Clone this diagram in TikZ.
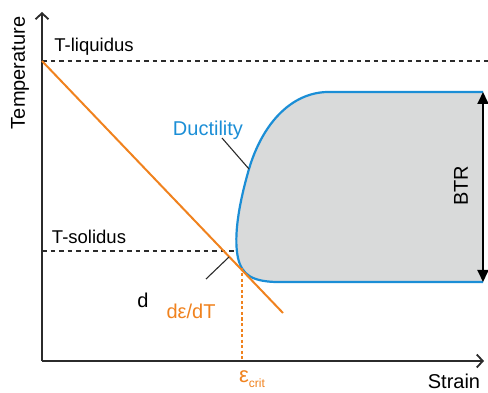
\documentclass[tikz,border=0pt]{standalone}
\usepackage{fontspec}
\setmainfont{Liberation Sans}
\usetikzlibrary{arrows.meta, positioning, calc}
\definecolor{corange}{HTML}{F0821E}
\definecolor{cblue}{HTML}{1B8ED6}
\definecolor{cgrey}{HTML}{D9DADA}
\definecolor{cdark}{HTML}{2B2B2B}
\tikzset{
  every picture/.style={line width=1.8pt},
  lbl/.style={font=\fontsize{20}{24}\selectfont, inner sep=0pt},
  lblsmall/.style={font=\fontsize{18.5}{22}\selectfont, inner sep=0pt},
  axis/.style={draw=cdark, line width=2pt, -{Straight Barb[length=6pt, width=13pt, line width=1.8pt]}},
  limit/.style={draw=cdark, dash pattern=on 4.5pt off 4pt, line width=1.8pt},
  leader/.style={draw=cdark, line width=1.1pt},
  btr/.style={draw=black, line width=1.8pt, {Triangle[length=12pt, width=11pt]}-{Triangle[length=12pt, width=11pt]}},
}

\begin{document}
\begin{tikzpicture}[x=1pt, y=-1pt]
  \useasboundingbox (0,0) rectangle (488,393);
  % ductility region
  \filldraw[fill=cgrey, draw=none] (483,92) -- (327,92)
    .. controls (290,93) and (262,125) .. (249,169)
    .. controls (240,200) and (233,235) .. (238,258)
    .. controls (242,275) and (252,281) .. (275,282) -- (483,282) -- cycle;
  \draw[cblue, line width=2.2pt] (483,92) -- (327,92)
    .. controls (290,93) and (262,125) .. (249,169)
    .. controls (240,200) and (233,235) .. (238,258)
    .. controls (242,275) and (252,281) .. (275,282) -- (483,282);
  % axes
  \coordinate (o) at (42,361);
  \coordinate (ytop) at (42,12);
  \coordinate (xend) at (484,361);
  \draw[axis] (o) -- (ytop);
  \draw[axis] (o) -- (xend);
  % temperature limits
  \coordinate (liq) at (42,61);
  \coordinate (liqend) at (488,61);
  \coordinate (sol) at (42,251);
  \coordinate (solend) at (236,251);
  \draw[limit] (liq) -- (liqend);
  \draw[limit] (sol) -- (solend);
  % strain rate line
  \coordinate (rateend) at (283,313);
  \draw[corange, line width=2pt] (liq) -- (rateend);
  \coordinate (crit) at (242,268);
  \coordinate (critaxis) at (242,361);
  \draw[corange, line width=1.8pt, dash pattern=on 3pt off 2.5pt] (crit) -- (critaxis);
  % BTR
  \coordinate (btrtop) at (483,92);
  \coordinate (btrbot) at (483,282);
  \draw[btr] (btrtop) -- (btrbot);
  \node[lbl, rotate=90] (btrlbl) at (461,186) {BTR};
  % labels
  \node[lbl, rotate=90] (ylbl) at (20,73) {Temperature};
  \node[lbl] (xlbl) at (454,381) {Strain};
  \node[lblsmall] (liqlbl) at (94,47) {T-liquidus};
  \node[lblsmall] (sollbl) at (89,237) {T-solidus};
  \node[lbl, text=cblue] (ductlbl) at (208,130) {Ductility};
  \node[lbl] (dlbl) at (143,300) {d};
  \node[lbl, text=corange] (ratelbl) at (191,311) {dε/dT};
  \node[lbl, text=corange] (critlbl) at (252,379) {{\fontsize{22}{24}\selectfont ε}\raisebox{-0.45ex}{\fontsize{12}{14}\selectfont crit}};
  % leaders
  \coordinate (ductpt) at (249,169);
  \coordinate (ductstart) at (222,138);
  \draw[leader] (ductstart) -- (ductpt);
  \coordinate (ratept) at (229,257);
  \coordinate (ratestart) at (206,279);
  \draw[leader] (ratestart) -- (ratept);
\end{tikzpicture}
\end{document}
